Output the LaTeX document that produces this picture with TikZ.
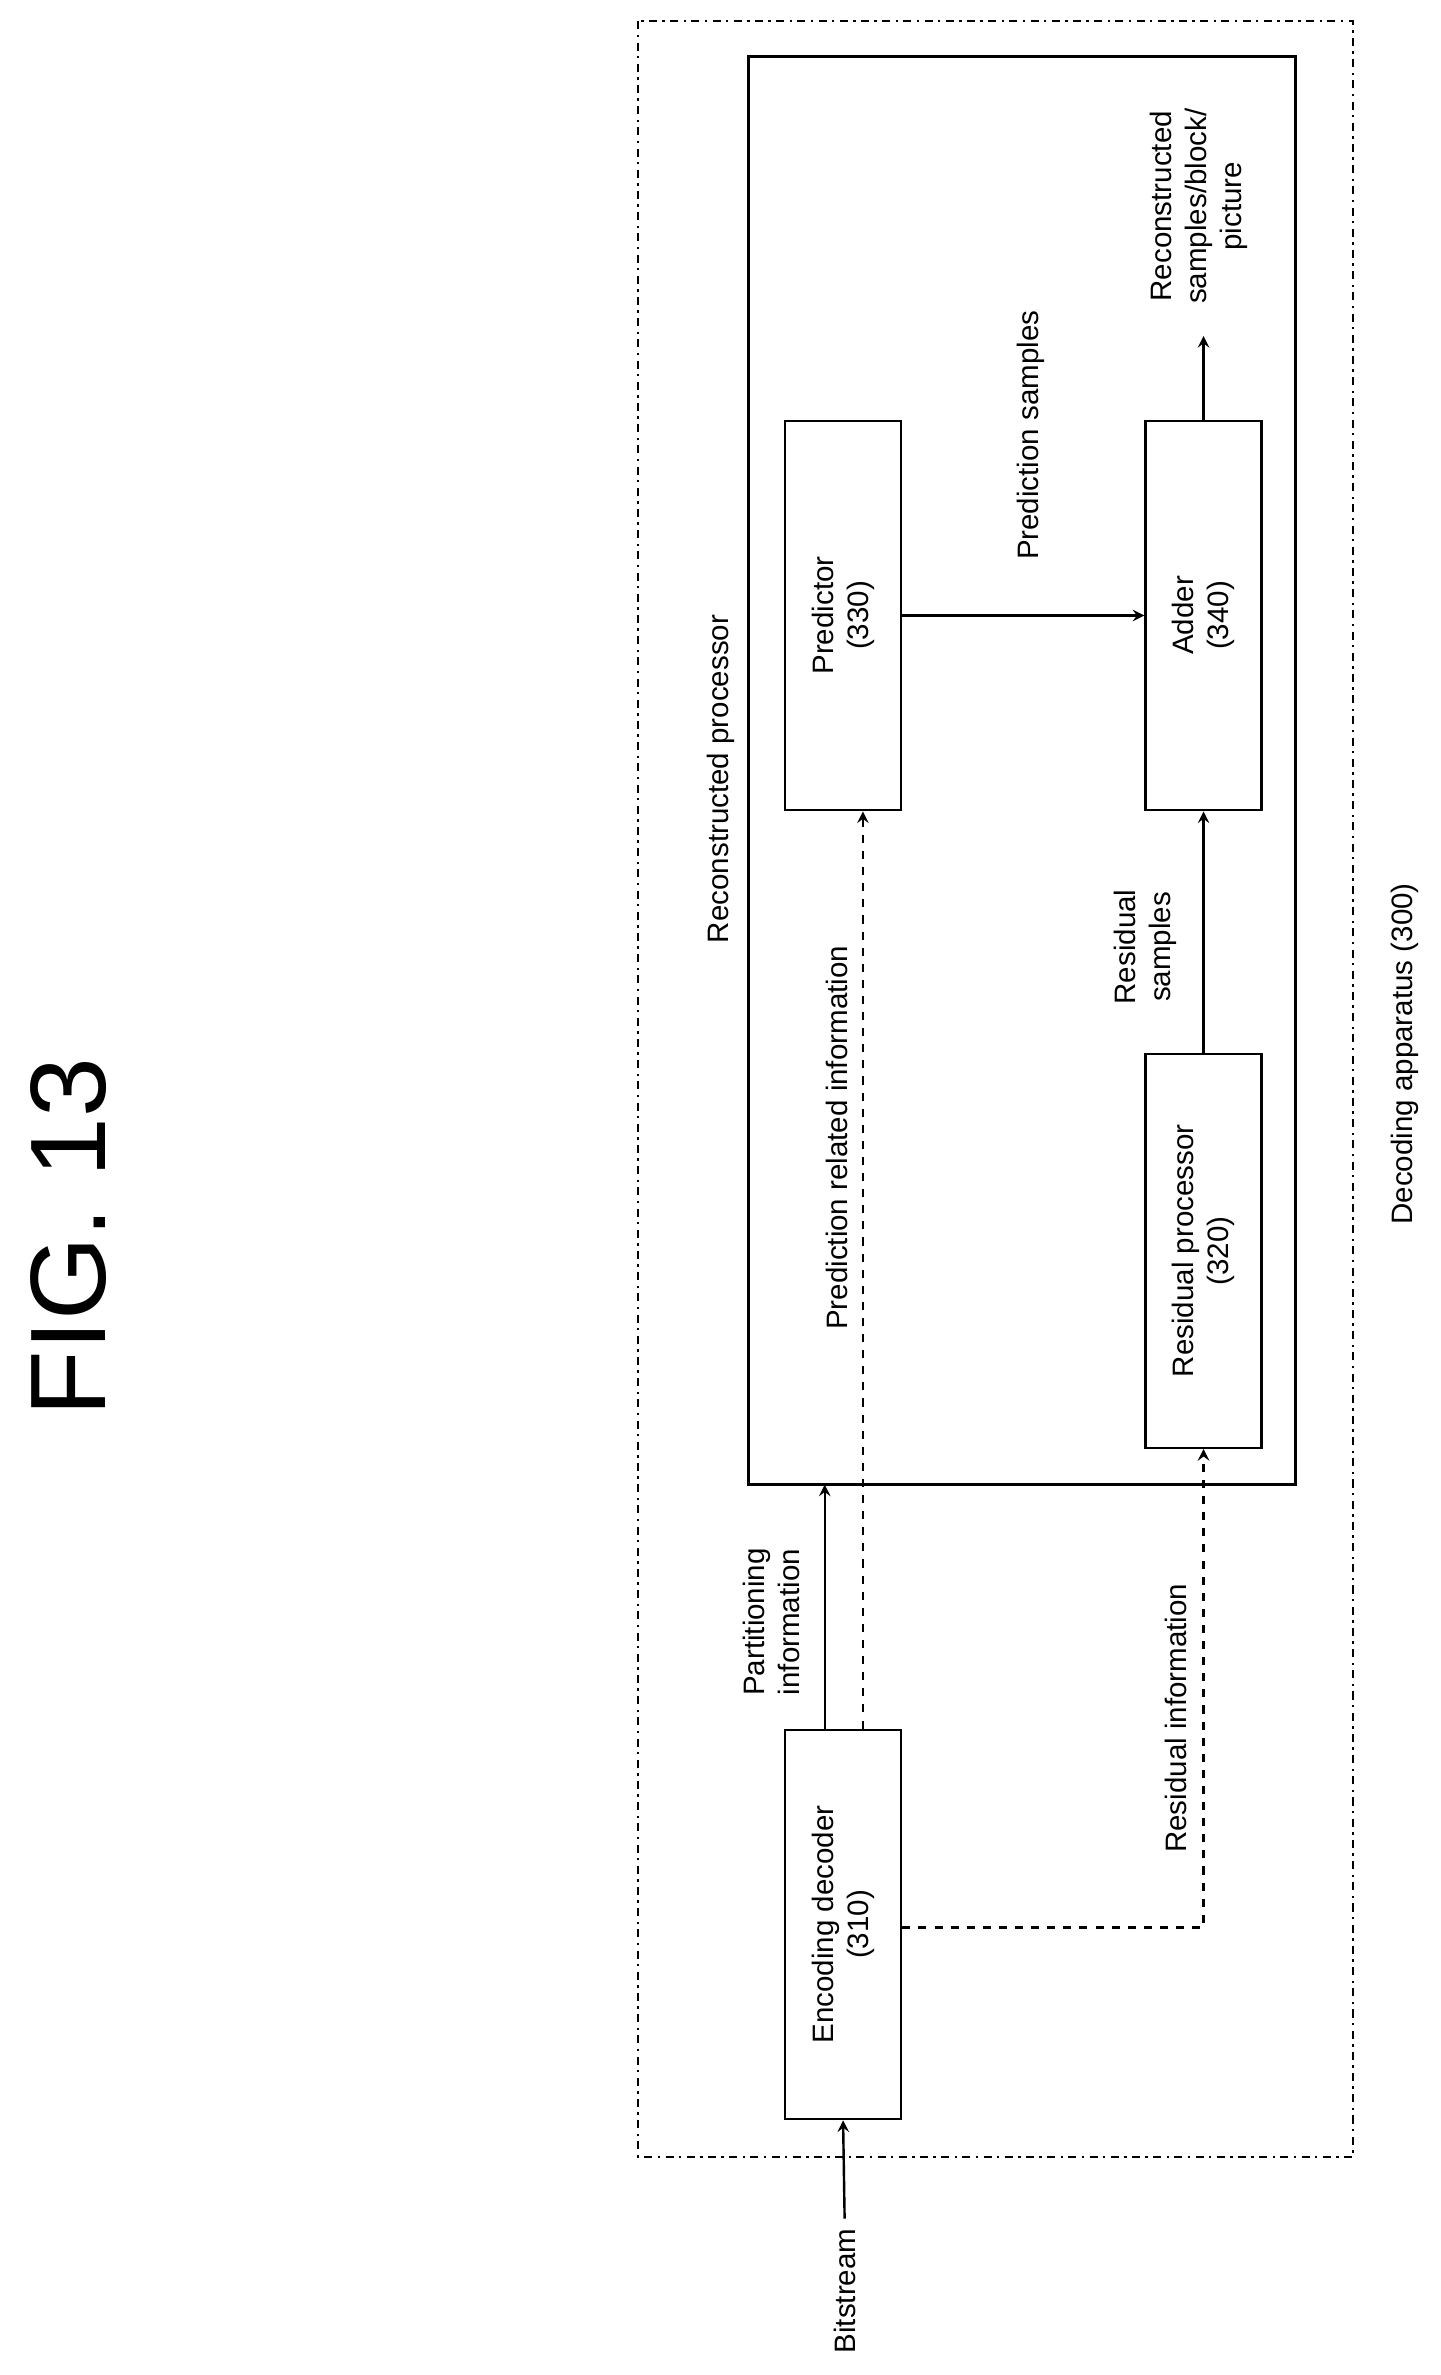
\documentclass[tikz,border=0pt]{standalone}
\usepackage{fontspec}
\setmainfont{Liberation Sans}
\begin{document}
\begin{tikzpicture}[x=0.02cm,y=-0.02cm,line width=0.9pt,>=stealth,
  box/.style={draw,minimum width=1.52cm,minimum height=5.1cm,inner sep=0pt},
  lbl/.style={rotate=90,align=center,font=\fontsize{11}{13}\selectfont}]
\useasboundingbox (0,0) rectangle (943,1555);
\draw[dash dot,line width=0.7pt] (418,14) rectangle (886,1412);
\draw[line width=1.2pt] (490,37) rectangle (848,972);
\node[box,label={[lbl]center:Encoding decoder\\(310)}] (enc) at (552,1260) {};
\node[box,label={[lbl]center:Predictor\\(330)}] (pred) at (552,403) {};
\node[box,minimum height=5.16cm,label={[lbl]center:Residual processor\\(320)}] (res) at (788,819) {};
\node[box,label={[lbl]center:Adder\\(340)}] (add) at (788,403) {};
\node[lbl,font=\fontsize{40}{44}\selectfont] (fig) at (45,810) {FIG. 13};
\node[lbl] (bs) at (553,1500) {Bitstream};
\draw[->] (bs.east) -- (enc.south);
\coordinate (pt) at (540,972);
\draw[->] (enc.north -| pt) -- (pt);
\node[lbl] (pinfo) at (505,1062) {Partitioning\\information};
\draw[->,dashed] (enc.north -| 565,0) -- (pred.south -| 565,0);
\node[lbl] (prel) at (548,745) {Prediction related information};
\coordinate (rc) at (788,1262);
\draw[->,dashed] (enc.east |- rc) -- (rc) -- (res.south);
\node[lbl] (rinfo) at (770,1125) {Residual information};
\draw[->] (res.north) -- (add.south);
\node[lbl] (rs) at (750,620) {Residual\\samples};
\draw[->] (pred.east) -- (add.west);
\node[lbl] (ps) at (675,285) {Prediction samples};
\coordinate (out) at (788,220);
\draw[->] (add.north) -- (out);
\node[lbl] (rec) at (785,135) {Reconstructed\\samples/block/\\picture};
\node[lbl] (rp) at (472,510) {Reconstructed processor};
\node[lbl] (da) at (920,690) {Decoding apparatus (300)};
\end{tikzpicture}
\end{document}
